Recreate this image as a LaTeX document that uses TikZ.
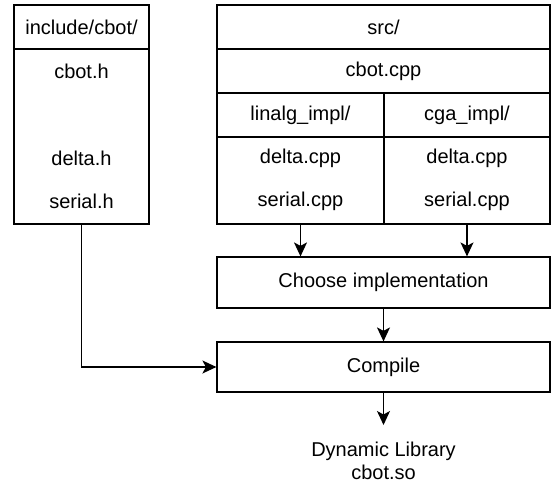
\documentclass[tikz,border=0pt]{standalone}
\usepackage{fontspec}
\setmainfont{Liberation Sans}
\usetikzlibrary{positioning}
\usetikzlibrary{arrows.meta}
\tikzset{>={Stealth[length=14pt,width=13pt,inset=3.5pt]}}

\begin{document}
\begin{tikzpicture}[x=1pt, y=1pt, line width=1.2pt,
    every node/.style={font=\fontsize{20}{23}\selectfont},
    cellbox/.style={draw, rectangle, inner sep=0pt, minimum height=44pt},
    fname/.style={inner sep=0pt}]

\useasboundingbox (0,0) rectangle (551,-482);

% Header directory
\node[cellbox, minimum width=135pt] (inc) at (81.5,-27) {include/cbot/};
\node[cellbox, minimum width=135pt, minimum height=175pt] (incbody) at (81.5,-136.5) {};
\node[fname] (cboth) at (81.5,-71) {cbot.h};
\node[fname] (deltah) at (81.5,-158.5) {delta.h};
\node[fname] (serialh) at (81.5,-201.5) {serial.h};

% Source directory
\node[cellbox, minimum width=333pt] (src) at (383.5,-27) {src/};
\node[cellbox, minimum width=333pt] (cbotcpp) at (383.5,-71) {cbot.cpp};

% Two implementations side by side
\node[cellbox, minimum width=167pt] (linalg) at (300.5,-115) {linalg\_impl/};
\node[cellbox, minimum width=166pt] (cga) at (467,-115) {cga\_impl/};
\node[cellbox, minimum width=167pt, minimum height=87pt] (linbody) at (300.5,-180.5) {};
\node[cellbox, minimum width=166pt, minimum height=87pt] (cgabody) at (467,-180.5) {};
\node[fname] (lindelta) at (300.5,-158.5) {delta.cpp};
\node[fname] (linserial) at (300.5,-201.5) {serial.cpp};
\node[fname] (cgadelta) at (467,-158.5) {delta.cpp};
\node[fname] (cgaserial) at (467,-201.5) {serial.cpp};

% Build steps
\node[cellbox, minimum width=333pt, minimum height=51pt] (choose) at (383.5,-282.5) {Choose implementation};
\node[cellbox, minimum width=333pt, minimum height=50pt] (compile) at (383.5,-367) {Compile};
\node[inner xsep=0pt, inner ysep=16pt, align=center, anchor=north] (lib) at (383.5,-425)
  {Dynamic Library\\cbot.so};

% Arrows
\draw[->] (linbody.south) -- (linbody.south |- choose.north);
\draw[->] (cgabody.south) -- (cgabody.south |- choose.north);
\draw[->] (choose) -- (compile);
\draw[->] (incbody.south) |- (compile.west);
\draw[->] (compile.south) -- (lib.north);
\end{tikzpicture}
\end{document}
